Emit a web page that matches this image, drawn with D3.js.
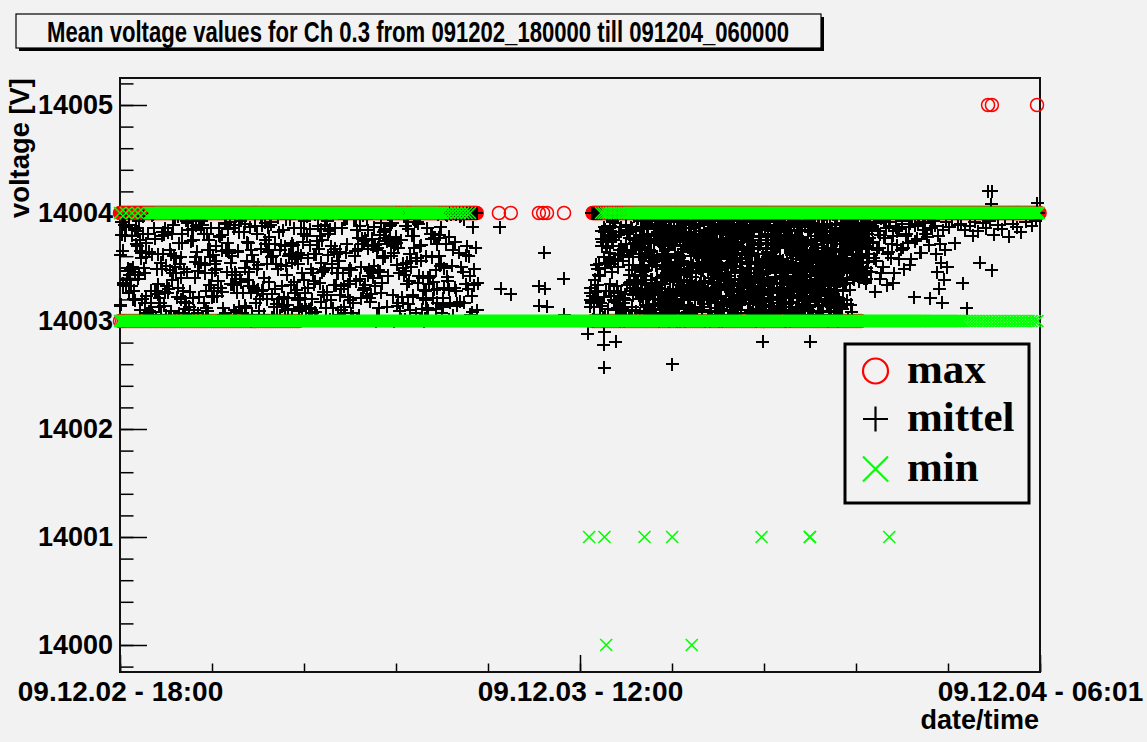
<!DOCTYPE html>
<html>
<head>
<meta charset="utf-8">
<script src="https://cdn.jsdelivr.net/npm/d3@7"></script>
<style>
  html, body { margin: 0; padding: 0; background: #f2f2f2; }
  svg { display: block; }
</style>
</head>
<body>
<svg id="chart" width="1147" height="742"></svg>
<script>
var title = "Mean voltage values for Ch 0.3 from 091202_180000 till 091204_060000";
var timeStart = "2009-12-02 18:00";
var timeEnd = "2009-12-04 06:01";
var yTicks = [14000, 14001, 14002, 14003, 14004, 14005];
var xLabelIdx = [0, 5, 10];
var legendNames = ["max", "mittel", "min"];

// runs of samples sitting on one level: [from, to, value, sample step in minutes]
var maxRuns = [
  ["2009-12-02 18:00", "2009-12-03 07:58", 14004, 2],
  ["2009-12-03 12:30", "2009-12-04 06:01", 14004, 2],
  ["2009-12-02 18:00", "2009-12-03 01:00", 14003, 5],
  ["2009-12-03 12:30", "2009-12-03 23:00", 14003, 5]
];
var minRuns = [
  ["2009-12-02 18:00", "2009-12-02 19:10", 14004, 14],
  ["2009-12-02 19:12", "2009-12-03 04:58", 14004, 2],
  ["2009-12-03 04:58", "2009-12-03 05:12", 14004, 7],
  ["2009-12-03 05:14", "2009-12-03 06:38", 14004, 2],
  ["2009-12-03 06:38", "2009-12-03 07:42", 14004, 8],
  ["2009-12-03 12:50", "2009-12-03 13:56", 14004, 6],
  ["2009-12-03 13:58", "2009-12-04 05:59", 14004, 2],
  ["2009-12-02 18:00", "2009-12-04 01:30", 14003, 2],
  ["2009-12-04 01:33", "2009-12-04 03:00", 14003, 3],
  ["2009-12-04 03:07", "2009-12-04 06:01", 14003, 7]
];

// single samples off the bands
var maxPoints = [
  ["2009-12-03 08:50", 14004], ["2009-12-03 09:18", 14004], ["2009-12-03 10:24", 14004],
  ["2009-12-03 10:34", 14004], ["2009-12-03 10:43", 14004], ["2009-12-03 11:23", 14004],
  ["2009-12-04 03:59", 14005], ["2009-12-04 04:08", 14005], ["2009-12-04 05:54", 14005]
];
var minPoints = [
  ["2009-12-03 12:22", 14001], ["2009-12-03 12:58", 14001], ["2009-12-03 14:32", 14001],
  ["2009-12-03 15:37", 14001], ["2009-12-03 19:07", 14001], ["2009-12-03 21:00", 14001],
  ["2009-12-03 21:01", 14001], ["2009-12-04 00:07", 14001],
  ["2009-12-03 13:02", 14000], ["2009-12-03 16:23", 14000]
];
var mittelPoints = [
  ["2009-12-03 08:52", 14003.87], ["2009-12-03 08:54", 14003.30], ["2009-12-03 09:18", 14003.25],
  ["2009-12-03 10:37", 14003.63], ["2009-12-03 10:24", 14003.32], ["2009-12-03 10:38", 14003.30],
  ["2009-12-03 10:25", 14003.14], ["2009-12-03 10:44", 14003.13], ["2009-12-03 11:22", 14003.39],
  ["2009-12-03 11:23", 14003.06],
  ["2009-12-03 12:19", 14002.88], ["2009-12-03 12:57", 14002.90], ["2009-12-03 12:56", 14002.78],
  ["2009-12-03 12:58", 14002.565], ["2009-12-03 13:25", 14002.81], ["2009-12-03 15:37", 14002.60],
  ["2009-12-03 19:10", 14002.81], ["2009-12-03 21:01", 14002.81],
  ["2009-12-04 03:59", 14004.20], ["2009-12-04 04:08", 14004.20], ["2009-12-04 04:07", 14004.08],
  ["2009-12-04 05:54", 14004.09]
];

// mittel clouds: hundredths of a volt above 14003, samples evenly spaced in time
var mittelL = [
  14,15,92,65,35,89,79,32,38,46,26,43,38,32,79,50,28,84,19,71,
  69,39,93,75,10,58,20,97,49,44,59,23,7,81,64,6,28,62,8,99,
  86,28,3,48,25,34,21,17,6,79,82,14,80,86,51,32,82,30,66,47,
  9,38,44,60,95,50,58,22,31,72,53,59,40,81,28,48,11,17,45,2,
  84,10,27,1,93,85,21,10,55,59,64,46,22,94,89,54,93,3,81,96,
  44,28,81,9,75,66,59,33,44,61,28,47,56,48,23,37,86,78,31,65,
  27,12,1,90,91,45,64,85,66,92,34,60,34,86,10,45,43,26,64,82,
  13,39,36,7,26,2,49,14,12,73,72,45,87,0,66,6,31,55,88,17,
  48,81,52,9,20,96,28,29,25,40,91,71,53,64,36,78,92,59,3,60,
  1,13,30,53,5,48,82,4,66,52,13,84,14,69,51,94,15,11,60,94,
  33,5,72,70,36,57,59,59,19,53,9,21,86,11,73,81,93,26,11,79,
  31,5,11,85,48,7,44,62,37,99,62,74,95,67,35,18,85,75,27,24,
  89,12,27,93,81,83,1,19,49,12,98,33,67,33,62,44,6,56,64,30,
  86,2,13,94,94,63,95,22,47,37,19,7,2,17,98,60,94,37,2,77,
  5,39,21,71,76,29,31,76,75,23,84,67,48,18,46,76,69,40,51,32,
  0,5,68,12,71,45,26,35,60,82,77,85,77,13,42,75,77,89,60,91,
  73,63,71,78,72,14,68,44,9,1,22,49,53,43,1,46,54,95,85,37,
  10,50,79,22,79,68,92,58,92,35,42,1,99,56,11,21,29,2,19,60,
  86,40,34,41,81,59,81,36,29,77,47,71,30,99,60,51,87,7,21,13,
  49,100,99,98,37,29,78,100,99,51,5,100,31,73,28,16,100,63,18,100,
  50,100,45,94,100,34,69,100,30,100,42,100,23,8,100,33,100,68,100,35
];
var mittelL2 = [
  61,80,33,98,87,49,89,48,48,20,45,86,83,43,65,63,81,17,72,3,
  9,17,98,5,76,28,62,13,54,48,62,27,5,26,4,62,81,89,2,44,
  97,7,20,72,4,18,93,91,13,74,84,75,40,88,7,53,86,89,17,52,
  12,66,33,86,22,23,53,69,31,79,31,80,6,7,66,72,63,54,43,33,
  89,8,65,95,93,95,82,90,56,38,32,26,61,31,99,28,29,2,67,88,
  6,75,20,87,66,89,25,1,71,16,96,20,70,32,22,10,43,21,62,69,
  54,86,26,29,63,13,61,44,38,14,97,58,70,12,20,34,8,5,88,79,
  54,45,47,49,24,61,85,69,53,64,86,44,49,24,10,44,32,7,71,34,
  49,47,4,95,65,84,67,88,50,98,74,33,94,42,21,25,44,87,70,66,
  47,80,91,58,84,60,74,99,88,71,24,0,76,52,17,5,75,17,97,88,
  34,16,62,56,24,94,7,58,90,69,70,40,0,28,12,10,42,76,21,77,
  11,17,77,80,53,15,31,71,41,1,17,100,66,100,99,14,100,97,98,100,
  17,61,100,60,6,100,87,48,100,10
];
var mittelR1 = [
  26,19,31,18,100,100,1,0,3,13,100,38,100,28,100,100,100,33,20,100,
  100,42,6,17,17,76,69,14,73,3,59,82,53,49,4,28,75,54,68,73,
  11,59,56,28,63,88,23,53,78,75,93,75,19,57,78,18,57,78,5,32,
  17,12,26,80,66,13,0,19,27,87,66,11,19,59,9,21,64,20,19,89,
  71,82,81,82,84,59,4,52,35,36,2,87,47,13,52,66,24,97,75,72,
  47,9,36,99,95,95,74,96,69,67
];
var mittelR1b = [
  13,17,100,23,100,100,27,52,19,48,43,53,5,100,83,0,22,87,85,69,
  97,82,97,78,34,78,45,87,82,28,91,10,97,62,50,3,2,69,61,56,
  17,0,25,4,64,33,82,43,77,64,86,10,28,38,31,26,83,30,37,24
];
var mittelR2 = [
  62,77,24,7,66,30,35,35,47,59,45,71,38,21,78,52,51,66,42,74,
  27,46,63,91,93,20,3,5,99,21,81,74,13,59,66,29,4,35,72,90,
  3,34,29,52,60,59,56,30,73,81,32,32,86,27,94,34,90,76,32,33,
  82,98,80,75,31,95,25,10,19,1,15,73,83,41,87,93,7,2,15,40,
  89,14,99,34,88,41,67,50,92,44,76,14,60,66,80,82,26,48,0,16,
  84,77,41,18,53,74,23,45,44,24,37,10,75,39,7,77,44,99,20,69,
  55,17,2,76,18,38,60,62,61,33,13,84,58,30,0,75,20,44,93,38,
  26,56,2,97,60,67,37,11,32,0,70,93,28,70,91,27,43,74,70,47,
  23,6,96,97,72,9,31,1,41,69,28,36,81,90,25,51,51,8,65,74,
  63,77,21,11,25,23,89,78,44,25,5,69,53,69,67,70,78,54,49,96,
  99,67,94,68,64,45,49,5,98,79,31,63,68,89,23,0,98,79,31,27,
  73,61,78,21,54,24,99,92,29,57,63,51,48,22,8,26,98,95,19,36,
  68,3,31,82,52,88,69,39,84,96,46,51,5,82,9,39,23,98,29,48,
  87,93,32,3,62,50,94,43,11,73,1,23,81,97,6,84,16,14,3,97,
  1,98,37,67,93,20,68,32,82,37,64,64,80,42,95,31,18,2,32,87,
  82,50,98,19,45,58,15,30,17,56,71,73,61,33,20,69,81,12,50,99,
  61,81,88,15,93,4,16,90,35,15,98,88,85,19,34,58,7,27,38,66,
  73,85,89,42,28,79,22,84,99,89,20,86,80,58,25,74,92,79,61,4,
  84,19,84,44,36,34,63,24,49,68,48,75,60,23,36,24,82,70,41,97,
  86,23,20,90,2,16,9,90,23,53,4,36,99,41,84,91,46,31,40,93,
  43,17,38,14,36,40,54,62,53,15,20,96,18,36,90,88,87,7,1,67,
  68,39,64,24,37,81,40,59,27,14,56,35,49,6,13,3,10,72,8,51,
  3,83,75,5,10,11,57,47,70,41,71,89,86,10,68,73,96,96,55,21,
  26,71,54,68,89,57,3,50,35,40,41,42,13,56,23,73,9,50,48,80,
  16,88,72,42,9,69,80,78,56,96,71,87,53,76,94,80,73,17,66,79,
  73,79,90,73,24,78,46,21,7,3,88,50,38,75,34,32,76,41,57,27,
  35,1,38,46,23,9,12,29,70,24,92,48,36,5,58,50,73,72,12,64,
  41,21,49,70,99,93,58,31,41,32,22,66,59,27,50,55,92,75,57,99,
  95,5,1,15,27,82,6,5,71,47,1,9,55,99,71,60,59,70,27,45,
  34,59,68,62,1,47,28,51,74,18,64,8,89,19,86,9,55,23,29,23,
  4,84,30,87,14,32,14,50,83,97,62,60,36,27,99,52,51,40,79,89,
  68,72,53,39,65,46,33,18,8,82,96,40,62,6,15,25,83,52,39,50,
  54,74,57,50,28,77,59,96,17,29,83,55,75,22,3,37,53,18,57,1,
  13,54,37,46,3,40,84,98,84,71,38,91,52,57,80,90,65,48,58,63,
  73,88,65,93,61,53,38,82,73,96,82,70,70,81,52,97,53,99,85,71,
  68,99,57,73,62,75,99,41,38,91,76,97,79,77,52,83,47,91,69,51,
  55,74,85,72,42,45,41,50,69,59,50,82,95,67,89,68,61,72,78,55,
  88,90,75,91,83,81,75,46,37,46,49,39,69,92,55,94,96,100,92,77
];
var mittelR2b = [
  71,59,93,43,23,59,73,49,49,85,9,4,9,47,62,13,22,29,81,1,
  72,61,7,5,96,11,64,56,29,90,98,16,29,5,55,20,85,24,79,3,
  52,40,60,20,17,27,99,74,71,75,34,27,77,59,27,78,62,56,19,43,
  20,82,75,5,13,12,18,15,62,85,51,22,24,80,93,94,71,23,41,45,
  17,2,23,73,58,5,77,27,86,16,0,86,88,38,29,52,30,45,92,64,
  78,78,1,78,89,92,19,90,27,7,76,90,38,95,32,19,68,19,86,15,
  14,37,80,31,49,97,41,10,69,26,8,86,74,29,62,26,75,75,60,52,
  31,72,77,75,20,35,36,13,93,62,10,76,73,89,37,64,55,60,60,60,
  59,21,65,89,46,67,59,55,19,0,40,5,55,90,89,50,22,95,30,94,
  23,12,48,23,55,21,22,12,41,54,44,0,64,70,34,5,65,73,47,97,
  66,39,72,39,49,49,94,65,84,57,88,73,3,96,23,9,3,75,3,39,
  93,85,62,10,24,23,69,2,51,38,68,4,14,57,79,95,69,81,22,44,
  57,47,17,80,34,17,31,26,45,32,20,41,63,97,23,21,34,4,44,49,
  48,73,2,31,54,17,67,68,93,75,21,3,6,87,37,88,3,44,17,0,
  93,95,44,9,62,79,55,89,86,78,72,32,9,51,24,26,89,35,57,30,
  97,4,50,95,95,68,44,1,75,55,19,88,19,21,80,20,64,5,29,5,
  51,89,34,94,75,92,60,7,34,85,22,82,10,10,88,19,46,44,54,42,
  22,31,88,91,31,92,94,68,96,22,0,23,1,44,37,70,26,99,23,0,
  78,3,8,52,61,18,7,54,51,92,88,77,5,2,10,96,84,24,93,62,
  71,35,92,51,87,60,77,78,84,66,58,36,15,2,38,91,34,93,33,31,
  22,31,5,33,92,32,13,62,43,19,26,37,28,91,6,70,50,33,99,28,
  22,65,26,35,56,20,90,29,79,86,42,47,27,59,77,25,65,50,86,15,
  48,75,43,57,48,26,47,18,14,14,51,27,0,6,2,38,90,16,20,77,
  73,22,44,99,43,53,8,89,99,9,50,16,80,32,81,12,19,43,20,48,
  81,64,38,76,75,86,67,86,79,85,71,91,87,97,81,53,97,80,74,76,
  85,93,72,79,83,50,82,69,45,86,39,68,96,56,52,91,89,69,85,55,
  67,81,41,94,96,68,37,72,84,95,87,46,90,67,78,90,54,44,39,91,
  43,68,35,83,58,87,81,87,89,68
];
var mittelR2c = [
  73,20,50,80,75,68,87,72,93,52,74,46,34,15,5,87,23,66,94,28,
  5,25,38,10,38,6,28,5,58,6,97,94,51,93,30,16,90,88,0,3,
  70,81,14,61,86,75,72,48,57,56,75,62,61,41,41,54,6,70,30,29,
  96,99,45,9,49,98,95,24,78,81,16,55,51,20,94,37,36,48,52,80,
  93,23,19,2,30,55,82,6,79,74,82,1,1,8,46,74,92,32,65,1,
  53,12,34,32,66,90,33,22,88,66,50,67,22,54,66,89,21,83,79,71,
  22,70,47,13,16,60,36,78,61,58,80,19,4,99,86,53,73,79,85,93,
  89,46,76,50,34,75,6,57,60,50,75,66,18,34,81,29,60,61,0,94,
  76,2,18,71,90,32,50,83,14,58,29,52,39,59,83,29,97,78,98,24,
  50,82,88,71,44,63,83,29,17,34,72,24,16,39,84,58,78,55,39,76,
  67,95,80,63,81,83,53,66,61,10,84,31,73,78,8,94,37,83,16,10,
  20,88,30,55,24,90,16,70,2,35,20,71,11,44,28,86,95,99,9,56,
  36,57,97,8,71,68,49,80,72,89,94,93,29,64,84,28,30,20,78,64,
  8,60,39,88,73,86,97,53,75,82,31,73,17,83,13,95,99,29,83,0,
  78,38,70,28,77,5,39,13,36,95,63,31,21,3,70,72,64,1,92,49,
  10,67,68,23,11,99,28,83,75,64,11,41,42,20,16,74,27,52,10,23,
  72,99,42,70,83,10,59,89,84,59,47,59,87,66,64,28,88,97,79,61,
  47,83,79,58,39,2,28,85,48,52,90,35,76,3,38,52,80,80,64,38,
  19,72,34,46,61,5,96,89,72,28,72,86,52,64,15,38,22,66,46,98,
  42,0,21,19,54,84,15,52,78,44,11,81,28,65,34,50,70,35,19,16,
  50,1,66,89,29,44,15,48,8,46
];
var mittelR3 = [
  62,88,45,100,73,91,27,56,100,83,68,39,95,100,50,77,100,86,33,64,
  100,92,58,100,79,44,100,87,70,100,
  85,100,66,93,100,48,100,81,100,72,100,90,57,100,100,22,88,100,76,100,
  95,100,63,100,84,
  100,91,100,78,100,100,21,86,100,93,100,
  88,62,45,79,30,71,54,17,84,38,66,92,50,
  100,87,100,100,94,100,72,100,100,89,100,
  100,90,100,35,100,84,100,12,100,100,
  88,100,100,79,100,92,100,100,83,100,
  54,100,100,91,100,100,86,100,100,100,
  93,100,47,100,80,100,100,100,89,100,
  100,100,85,100,100,94,100,100,100,78,
  100,100,100,90,100,100,100,87,100,100,
  100,82,100,100,100,100,92,100,100,100,
  100,100,88,100,100,100,93,100,100,100
];
var mittelR3b = [
  72,100,85,58,100,91,66,100,80,44,100,93,77,100,62,88,100,71,35,100,
  95,83,100,57,100,90,68,100,79,100,87,52,100,94,100,74,100,89,100,63,
  100,92,100,81,100,100,70,100,86,100
];
var mittelSegments = [
  ["2009-12-02 18:00", "2009-12-03 08:00", mittelL],
  ["2009-12-02 18:01", "2009-12-03 07:59", mittelL2],
  ["2009-12-03 12:24", "2009-12-03 14:20", mittelR1],
  ["2009-12-03 12:25", "2009-12-03 14:19", mittelR1b],
  ["2009-12-03 14:20", "2009-12-03 23:20", mittelR2],
  ["2009-12-03 14:21", "2009-12-03 23:19", mittelR2b],
  ["2009-12-03 14:20", "2009-12-03 22:40", mittelR2c],
  ["2009-12-03 23:20", "2009-12-04 05:58", mittelR3],
  ["2009-12-03 23:21", "2009-12-04 01:50", mittelR3b]
];

var svg = d3.select("#chart");
var parse = d3.timeParse("%Y-%m-%d %H:%M");
var t0 = parse(timeStart), t1 = parse(timeEnd);

var x = d3.scaleTime().domain([t0, t1]).range([120, 1040]);
var y = d3.scaleLinear().domain([13999.75, 14005.25]).range([672, 78]);

function expandRuns(runs) {
  var out = [];
  runs.forEach(function(r) {
    var a = +parse(r[0]), b = +parse(r[1]);
    for (var t = a; t <= b; t += r[3] * 60000) out.push({t: new Date(t), v: r[2]});
  });
  return out;
}
function points(list) {
  return list.map(function(p) { return {t: parse(p[0]), v: p[1]}; });
}

var maxData = expandRuns(maxRuns).concat(points(maxPoints));
var minData = expandRuns(minRuns).concat(points(minPoints));
var mittelData = points(mittelPoints);
mittelSegments.forEach(function(s) {
  var a = +parse(s[0]), b = +parse(s[1]), n = s[2].length;
  s[2].forEach(function(v, i) {
    mittelData.push({t: new Date(a + (b - a) * i / (n - 1)), v: 14003 + v / 100});
  });
});

svg.append("rect").attr("width", 1147).attr("height", 742).attr("fill", "#f2f2f2");

// title pave with shadow
svg.append("rect").attr("x", 19).attr("y", 17).attr("width", 805).attr("height", 34).attr("fill", "#000");
svg.append("rect").attr("x", 16).attr("y", 14).attr("width", 805).attr("height", 34)
  .attr("fill", "#f2f2f2").attr("stroke", "#000").attr("stroke-width", 1.2);
svg.append("text").attr("x", 47).attr("y", 42)
  .attr("textLength", 742).attr("lengthAdjust", "spacingAndGlyphs")
  .style("font", "bold 30px 'Liberation Sans', Arial, sans-serif")
  .text(title);

// axes
var minorY = d3.range(0, 28).map(function(i) { return 13999.8 + i * 0.2; });
svg.append("g").attr("transform", "translate(120,0)")
  .call(d3.axisLeft(y).tickValues(minorY).tickSizeInner(-13.5).tickSizeOuter(0).tickFormat(""));
var yMajor = svg.append("g").attr("transform", "translate(120,0)")
  .call(d3.axisLeft(y).tickValues(yTicks).tickSizeInner(-27).tickSizeOuter(0).tickPadding(7).tickFormat(d3.format("d")));
yMajor.selectAll("text").style("font", "bold 27px 'Liberation Sans', Arial, sans-serif").attr("fill", "#000");

var xTickVals = d3.range(11).map(function(i) { return new Date(+t0 + (t1 - t0) * i / 10); });
var fmt = d3.timeFormat("%y.%m.%d - %H:%M");
svg.append("g").attr("transform", "translate(0,672)")
  .call(d3.axisBottom(x).tickValues(xTickVals).tickSizeInner(-8.5).tickSizeOuter(0).tickFormat(""));
var xMajor = svg.append("g").attr("transform", "translate(0,672)")
  .call(d3.axisBottom(x).tickValues(xLabelIdx.map(function(i) { return xTickVals[i]; }))
    .tickSizeInner(-17).tickSizeOuter(0).tickPadding(9).tickFormat(fmt));
xMajor.selectAll("text").style("font", "bold 28px 'Liberation Sans', Arial, sans-serif").attr("fill", "#000");

svg.selectAll(".domain").remove();
svg.selectAll(".tick line").attr("stroke", "#000").attr("stroke-width", 1.5);

// frame
svg.append("rect").attr("x", 120).attr("y", 78).attr("width", 920).attr("height", 594)
  .attr("fill", "none").attr("stroke", "#111").attr("stroke-width", 2);

svg.append("text").attr("transform", "translate(29,78) rotate(-90)").attr("text-anchor", "end")
  .attr("textLength", 140).attr("lengthAdjust", "spacingAndGlyphs")
  .style("font", "bold 27px 'Liberation Sans', Arial, sans-serif").text("voltage [V]");
svg.append("text").attr("x", 1039).attr("y", 729).attr("text-anchor", "end")
  .style("font", "bold 27px 'Liberation Sans', Arial, sans-serif").text("date/time");

// markers
var circlePath = "M6.5,0A6.5,6.5 0 1,1 -6.5,0A6.5,6.5 0 1,1 6.5,0";
var plusPath = "M-6.5,0H6.5M0,-6.5V6.5";
var crossPath = "M-6,-6L6,6M-6,6L6,-6";

function drawMarks(data, d, color, width, crisp) {
  svg.append("g").attr("shape-rendering", crisp ? "crispEdges" : "auto")
    .selectAll("path").data(data).join("path")
    .attr("d", d)
    .attr("transform", function(p) { return "translate(" + x(p.t) + "," + y(p.v) + ")"; })
    .attr("fill", "none").attr("stroke", color).attr("stroke-width", width);
}
drawMarks(maxData, circlePath, "#ff0000", 1.5, false);
drawMarks(mittelData, plusPath, "#000", 2, true);
drawMarks(minData, crossPath, "#00ff00", 1.6, false);

// legend
var lg = svg.append("g");
lg.append("rect").attr("x", 845).attr("y", 344).attr("width", 184).attr("height", 159)
  .attr("fill", "#f2f2f2").attr("stroke", "#000").attr("stroke-width", 3);
var legendMarks = [
  ["M12.5,0A12.5,12.5 0 1,1 -12.5,0A12.5,12.5 0 1,1 12.5,0", "#ff0000", 371],
  ["M-12.5,0H12.5M0,-12.5V12.5", "#000", 419],
  ["M-12.5,-12.5L12.5,12.5M-12.5,12.5L12.5,-12.5", "#00ff00", 469]
];
legendMarks.forEach(function(m, i) {
  lg.append("path").attr("d", m[0]).attr("transform", "translate(875.5," + m[2] + ")")
    .attr("fill", "none").attr("stroke", m[1]).attr("stroke-width", 2.2);
  lg.append("text").attr("x", 907).attr("y", m[2] + 12)
    .style("font", "bold 43px 'Liberation Serif', 'Times New Roman', serif")
    .text(legendNames[i]);
});
</script>
</body>
</html>
